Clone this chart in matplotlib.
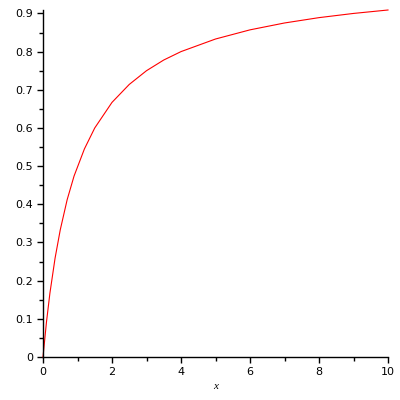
import matplotlib
matplotlib.use("Agg")
import matplotlib.pyplot as plt
from matplotlib.ticker import MultipleLocator

# points
x_vals = [0, 0.1, 0.2, 0.35, 0.5, 0.7, 0.9, 1.2, 1.5, 2, 2.5, 3, 3.5, 4, 5, 6, 7, 8, 9, 10]
y_vals = [0, 0.091, 0.167, 0.259, 0.333, 0.412, 0.474, 0.545, 0.6, 0.667, 0.714, 0.75,
          0.778, 0.8, 0.833, 0.857, 0.875, 0.889, 0.9, 0.909]

x_ticks = [0, 2, 4, 6, 8, 10]
y_ticks = [0, 0.1, 0.2, 0.3, 0.4, 0.5, 0.6, 0.7, 0.8, 0.9]

fig = plt.figure(figsize=(4, 4), dpi=100)
ax = fig.add_axes([0.1075, 0.1075, 0.8625, 0.8675])

ax.plot(x_vals, y_vals, color="red", linewidth=0.8, clip_on=False)

ax.set_xlim(0, 10)
ax.set_ylim(0, 0.909)
for s in ["top", "right"]:
    ax.spines[s].set_visible(False)
for s in ["left", "bottom"]:
    ax.spines[s].set_linewidth(1.0)

ax.set_xticks(x_ticks)
ax.set_xticklabels([str(t) for t in x_ticks])
ax.set_yticks(y_ticks)
ax.set_yticklabels(["0"] + [f"{t:.1f}" for t in y_ticks[1:]])
ax.xaxis.set_minor_locator(MultipleLocator(1))
ax.yaxis.set_minor_locator(MultipleLocator(0.05))
ax.tick_params(which="major", length=4, width=1, labelsize=8, pad=3)
ax.tick_params(which="minor", length=3, width=1)

ax.set_xlabel("x", fontfamily="Liberation Serif", fontstyle="italic", fontsize=8, labelpad=4)

fig.savefig("out.png", dpi=100)
